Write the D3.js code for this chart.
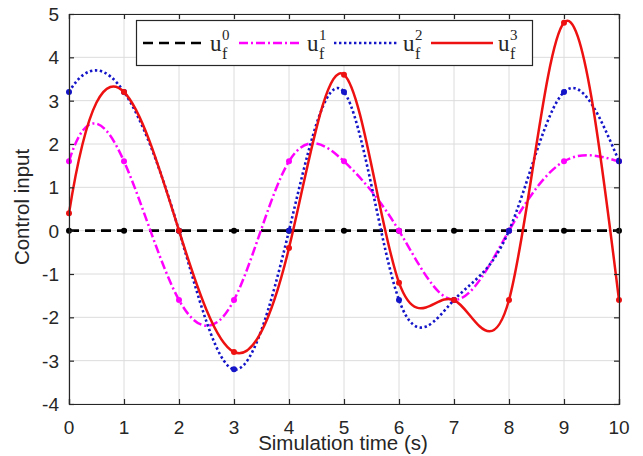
<!DOCTYPE html>
<head>
  <meta charset="utf-8">
  <title>Control input</title>
  <script src="https://cdnjs.cloudflare.com/ajax/libs/d3/7.8.5/d3.min.js"></script>
</head>

<style>
  body {
    margin: 0;
    background: white;
  }

  .tick-label {
    font: 19px "Liberation Sans", Arial, sans-serif;
    fill: #262626;
  }

  .axis-title {
    font: 20.5px "Liberation Sans", Arial, sans-serif;
    fill: #262626;
  }

  .grid line {
    stroke: #dcdcdc;
    stroke-width: 1;
  }

  .legend-text {
    font-family: "Liberation Serif", "Times New Roman", serif;
    fill: #262626;
  }
</style>

<body>
  <svg id='svg-chart'></svg>
</body>

<script>

// sampled control inputs at each integer time step
var times = [0, 1, 2, 3, 4, 5, 6, 7, 8, 9, 10];
var u0 = [0, 0, 0, 0, 0, 0, 0, 0, 0, 0, 0];
var u1 = [1.6, 1.6, -1.6, -1.6, 1.6, 1.6, 0, -1.6, 0, 1.6, 1.6];
var u2 = [3.2, 3.2, 0, -3.2, 0, 3.2, -1.6, -1.6, 0, 3.2, 1.6];
var u3 = [0.4, 3.2, 0, -2.8, -0.4, 3.6, -1.2, -1.6, -1.6, 4.8, -1.6];

var x_ticks = [0, 1, 2, 3, 4, 5, 6, 7, 8, 9, 10];
var y_ticks = [-4, -3, -2, -1, 0, 1, 2, 3, 4, 5];
var series_names = ['0', '1', '2', '3'];

var full_w = 643,
    full_h = 456,
    margin = {top: 14, right: 24, bottom: 52, left: 69},
    width = full_w - margin.left - margin.right,
    height = full_h - margin.top - margin.bottom;

var styles = [
  {colour: '#000000', dash: '10,6', width: 2.6},
  {colour: '#ff00ff', dash: '9,3,2,3', width: 2.5},
  {colour: '#1414c8', dash: '2.4,2.6', width: 2.6},
  {colour: '#ee1111', dash: null, width: 2.5}
];

// cubic spline as a d3 curve: not-a-knot at the start, natural at the end
function Spline(context) { this._context = context; }
Spline.prototype = {
  areaStart: function() { this._line = 0; },
  areaEnd: function() { this._line = NaN; },
  lineStart: function() { this._x = []; this._y = []; },
  point: function(px, py) { this._x.push(+px); this._y.push(+py); },
  lineEnd: function() {
    var xs = this._x, ys = this._y, n = xs.length, ctx = this._context;
    if (n < 4) {
      ctx.moveTo(xs[0], ys[0]);
      for (var j = 1; j < n; j++) ctx.lineTo(xs[j], ys[j]);
      return;
    }
    var h = [];
    for (var i = 0; i < n - 1; i++) h.push(xs[i + 1] - xs[i]);
    // system A*M = b for the second derivatives
    var A = [], b = [];
    for (i = 0; i < n; i++) { A.push(new Array(n).fill(0)); b.push(0); }
    A[0][0] = h[1]; A[0][1] = -(h[0] + h[1]); A[0][2] = h[0];
    for (i = 1; i < n - 1; i++) {
      A[i][i - 1] = h[i - 1];
      A[i][i] = 2 * (h[i - 1] + h[i]);
      A[i][i + 1] = h[i];
      b[i] = 6 * ((ys[i + 1] - ys[i]) / h[i] - (ys[i] - ys[i - 1]) / h[i - 1]);
    }
    A[n - 1][n - 1] = 1;
    // gaussian elimination with partial pivoting
    for (var c = 0; c < n; c++) {
      var p = c;
      for (var r = c + 1; r < n; r++) if (Math.abs(A[r][c]) > Math.abs(A[p][c])) p = r;
      var tmp = A[c]; A[c] = A[p]; A[p] = tmp;
      var tb = b[c]; b[c] = b[p]; b[p] = tb;
      for (r = c + 1; r < n; r++) {
        var f = A[r][c] / A[c][c];
        if (f === 0) continue;
        for (var k = c; k < n; k++) A[r][k] -= f * A[c][k];
        b[r] -= f * b[c];
      }
    }
    var M = new Array(n).fill(0);
    for (r = n - 1; r >= 0; r--) {
      var s = b[r];
      for (k = r + 1; k < n; k++) s -= A[r][k] * M[k];
      M[r] = s / A[r][r];
    }
    ctx.moveTo(xs[0], ys[0]);
    for (i = 0; i < n - 1; i++) {
      var hi = h[i], d = (ys[i + 1] - ys[i]) / hi;
      var s0 = d - hi * (2 * M[i] + M[i + 1]) / 6;
      var s1 = d + hi * (M[i] + 2 * M[i + 1]) / 6;
      ctx.bezierCurveTo(xs[i] + hi / 3, ys[i] + s0 * hi / 3,
                        xs[i + 1] - hi / 3, ys[i + 1] - s1 * hi / 3,
                        xs[i + 1], ys[i + 1]);
    }
  }
};
function curveSpline(context) { return new Spline(context); }

var svg = d3.select('#svg-chart')
  .attr('width', full_w)
  .attr('height', full_h);

var g = svg.append('g')
  .attr('transform', 'translate(' + margin.left + ',' + margin.top + ')');

var x = d3.scaleLinear().domain([0, 10]).range([0, width]);
var y = d3.scaleLinear().domain([-4, 5]).range([height, 0]);

// grid
g.append('g').attr('class', 'grid')
  .selectAll('line.gx')
  .data(x_ticks)
  .enter().append('line')
  .attr('x1', function(d) { return x(d); })
  .attr('x2', function(d) { return x(d); })
  .attr('y1', 0).attr('y2', height);

g.append('g').attr('class', 'grid')
  .selectAll('line.gy')
  .data(y_ticks)
  .enter().append('line')
  .attr('y1', function(d) { return y(d); })
  .attr('y2', function(d) { return y(d); })
  .attr('x1', 0).attr('x2', width);

// lines + markers
var all_series = [u0, u1, u2, u3];

var line = d3.line()
  .x(function(d, i) { return x(times[i]); })
  .y(function(d) { return y(d); })
  .curve(curveSpline);

all_series.forEach(function(vals, k) {
  var st = styles[k];
  g.append('path')
    .datum(vals)
    .attr('d', line)
    .attr('fill', 'none')
    .attr('stroke', st.colour)
    .attr('stroke-width', st.width)
    .attr('stroke-dasharray', st.dash);

  g.selectAll('circle.m' + k)
    .data(vals)
    .enter().append('circle')
    .attr('class', 'm' + k)
    .attr('cx', function(d, i) { return x(times[i]); })
    .attr('cy', function(d) { return y(d); })
    .attr('r', 3)
    .attr('fill', st.colour);
});

// axes box with inward ticks on all sides
var tick_len = 5;
var axis_col = '#262626';

g.append('g')
  .attr('transform', 'translate(0,' + height + ')')
  .call(d3.axisBottom(x).tickValues(x_ticks).tickSize(-tick_len).tickFormat(''));
g.append('g')
  .call(d3.axisTop(x).tickValues(x_ticks).tickSize(-tick_len).tickFormat(''));
g.append('g')
  .call(d3.axisLeft(y).tickValues(y_ticks).tickSize(-tick_len).tickFormat(''));
g.append('g')
  .attr('transform', 'translate(' + width + ',0)')
  .call(d3.axisRight(y).tickValues(y_ticks).tickSize(-tick_len).tickFormat(''));

g.selectAll('.domain, .tick line')
  .attr('stroke', axis_col)
  .attr('stroke-width', 1.2);

// tick labels
g.selectAll('text.xl')
  .data(x_ticks)
  .enter().append('text')
  .attr('class', 'tick-label')
  .attr('x', function(d) { return x(d); })
  .attr('y', height + 30)
  .attr('text-anchor', 'middle')
  .text(function(d) { return d; });

g.selectAll('text.yl')
  .data(y_ticks)
  .enter().append('text')
  .attr('class', 'tick-label')
  .attr('x', -10)
  .attr('y', function(d) { return y(d) + 7; })
  .attr('text-anchor', 'end')
  .text(function(d) { return d; });

// axis titles
g.append('text')
  .attr('class', 'axis-title')
  .attr('x', width / 2 - 1)
  .attr('y', height + 46)
  .attr('text-anchor', 'middle')
  .text('Simulation time (s)');

g.append('text')
  .attr('class', 'axis-title')
  .attr('transform', 'translate(' + (-40) + ',' + (height / 2 - 2) + ') rotate(-90)')
  .attr('text-anchor', 'middle')
  .text('Control input');

// legend
var leg = svg.append('g');
leg.append('rect')
  .attr('x', 136.5).attr('y', 20.5)
  .attr('width', 396).attr('height', 45)
  .attr('fill', 'white')
  .attr('stroke', axis_col)
  .attr('stroke-width', 1.2);

var leg_x = [143, 239, 334, 431];
var leg_len = [62, 63, 64, 62];
var leg_y = 43;

series_names.forEach(function(name, k) {
  var st = styles[k];
  var x0 = leg_x[k];
  leg.append('line')
    .attr('x1', x0).attr('x2', x0 + leg_len[k])
    .attr('y1', leg_y).attr('y2', leg_y)
    .attr('stroke', st.colour)
    .attr('stroke-width', st.width)
    .attr('stroke-dasharray', st.dash);

  var tx = x0 + leg_len[k] + 5;
  leg.append('text')
    .attr('class', 'legend-text')
    .attr('x', tx).attr('y', 51)
    .style('font-size', '23px')
    .text('u');
  leg.append('text')
    .attr('class', 'legend-text')
    .attr('x', tx + 12).attr('y', 40)
    .style('font-size', '15px')
    .text(name);
  leg.append('text')
    .attr('class', 'legend-text')
    .attr('x', tx + 12).attr('y', 59)
    .style('font-size', '16px')
    .text('f');
});

</script>
